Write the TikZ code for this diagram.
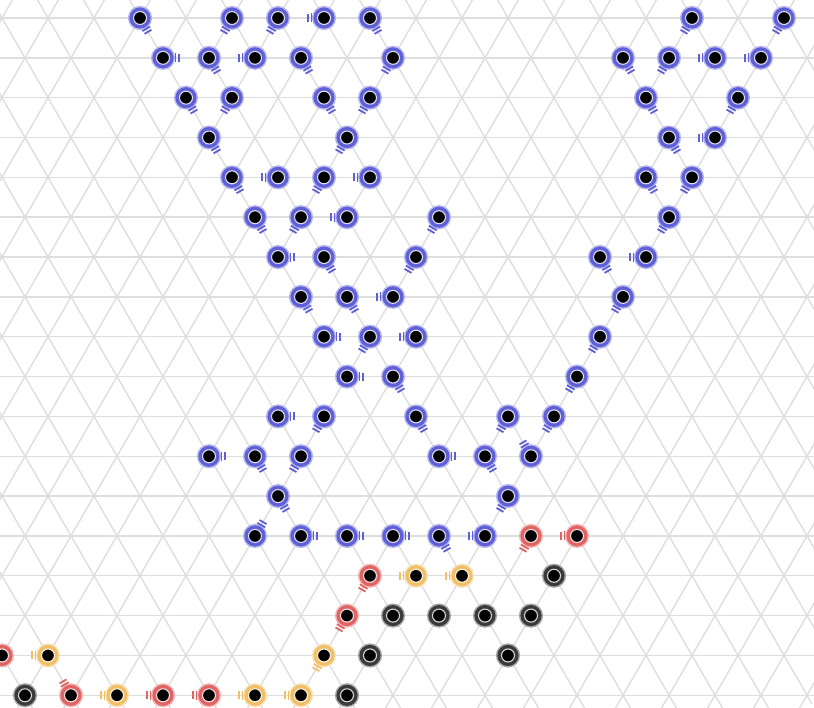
\documentclass[tikz,border=0pt]{standalone}
\usepackage{xcolor}

\definecolor{ringblue}{HTML}{5F5FD8}
\definecolor{ringred}{HTML}{E06464}
\definecolor{ringyellow}{HTML}{F0C068}
\definecolor{ringblack}{HTML}{3A3A3A}

\tikzset{
  atom/.style = {circle, inner sep=0pt, minimum size=13pt, fill=black,
                 draw=#1!22!white, line width=1.1pt,
                 preaction={draw=#1!45!white, line width=11pt},
                 preaction={draw=#1, line width=8pt}},
  bond/.style = {line width=1.8pt},
  gridline/.style = {draw=black!13, line width=1.4pt}
}

% two short bars beside an atom, pointing at the neighbour it binds to
\newcommand\bondmark[3]{%
  \draw[bond, draw=#3] ([shift={(#2:12.5)}]#1.center) ++(#2+90:4.5) -- ++(#2-90:9)
                       ([shift={(#2:16)}]#1.center) ++(#2+90:4) -- ++(#2-90:8);}

\begin{document}
\begin{tikzpicture}[x=1pt, y=1pt]

\useasboundingbox (0,0) rectangle (814,-708);
\fill[white] (0,0) rectangle (814,-708);

% triangular lattice
\begin{scope}
  \clip[rounded corners=10pt] (0,0) rectangle (814,-708);
  \foreach \r in {0,...,17}
    \draw[gridline] (0,{-18-39.84*\r}) -- (814,{-18-39.84*\r});
  \foreach \k in {-12,...,24} {
    \draw[gridline] ({129.6+46*\k},0) -- ({538.4+46*\k},-708);
    \draw[gridline] ({150.4+46*\k},0) -- ({-258.4+46*\k},-708);
  }
\end{scope}

% atoms with a bond mark: row/column/colour/direction
\foreach \r/\c/\col/\a in {
    0/0/ringblue/300, 0/4/ringblue/240, 0/6/ringblue/240, 0/8/ringblue/180,
    0/10/ringblue/300, 0/24/ringblue/240, 0/28/ringblue/240,
    1/1/ringblue/0, 1/3/ringblue/300, 1/5/ringblue/180, 1/7/ringblue/300,
    1/11/ringblue/240, 1/21/ringblue/300, 1/23/ringblue/240, 1/25/ringblue/180, 1/27/ringblue/180,
    2/2/ringblue/300, 2/4/ringblue/240, 2/8/ringblue/300, 2/10/ringblue/240,
    2/22/ringblue/300, 2/26/ringblue/240,
    3/3/ringblue/300, 3/9/ringblue/240, 3/23/ringblue/300, 3/25/ringblue/180,
    4/4/ringblue/300, 4/6/ringblue/180, 4/8/ringblue/240, 4/10/ringblue/180,
    4/22/ringblue/300, 4/24/ringblue/240,
    5/5/ringblue/300, 5/7/ringblue/240, 5/9/ringblue/180, 5/13/ringblue/240, 5/23/ringblue/240,
    6/6/ringblue/0, 6/8/ringblue/300, 6/12/ringblue/240, 6/20/ringblue/300, 6/22/ringblue/180,
    7/7/ringblue/300, 7/9/ringblue/300, 7/11/ringblue/180, 7/21/ringblue/240,
    8/8/ringblue/0, 8/10/ringblue/240, 8/12/ringblue/180, 8/20/ringblue/240,
    9/9/ringblue/0, 9/11/ringblue/300, 9/19/ringblue/240,
    10/6/ringblue/0, 10/8/ringblue/240, 10/12/ringblue/300, 10/16/ringblue/240, 10/18/ringblue/240,
    11/3/ringblue/0, 11/5/ringblue/300, 11/7/ringblue/240, 11/13/ringblue/0,
    11/15/ringblue/300, 11/17/ringblue/120,
    12/6/ringblue/300, 12/16/ringblue/240,
    13/5/ringblue/60, 13/7/ringblue/0, 13/9/ringblue/0, 13/11/ringblue/0,
    13/13/ringblue/300, 13/15/ringblue/180, 13/17/ringred/240, 13/19/ringred/180,
    14/10/ringred/240, 14/12/ringyellow/180, 14/14/ringyellow/180,
    15/9/ringred/240,
    16/-4/ringyellow/180, 16/8/ringyellow/240,
    17/-3/ringred/120, 17/-1/ringyellow/180, 17/1/ringred/180, 17/3/ringred/180,
    17/5/ringyellow/180, 17/7/ringyellow/180} {
  \node[atom=\col] (n\r-\c) at ({140+23*\c},{-18-39.84*\r}) {};
  \bondmark{n\r-\c}{\a}{\col}
}

% atoms without a mark
\foreach \r/\c/\col in {14/18/ringblack, 15/11/ringblack, 15/13/ringblack,
    15/15/ringblack, 15/17/ringblack, 16/10/ringblack, 16/16/ringblack,
    17/-5/ringblack, 17/9/ringblack, 16/-6/ringred}
  \node[atom=\col] (n\r-\c) at ({140+23*\c},{-18-39.84*\r}) {};

\end{tikzpicture}
\end{document}
